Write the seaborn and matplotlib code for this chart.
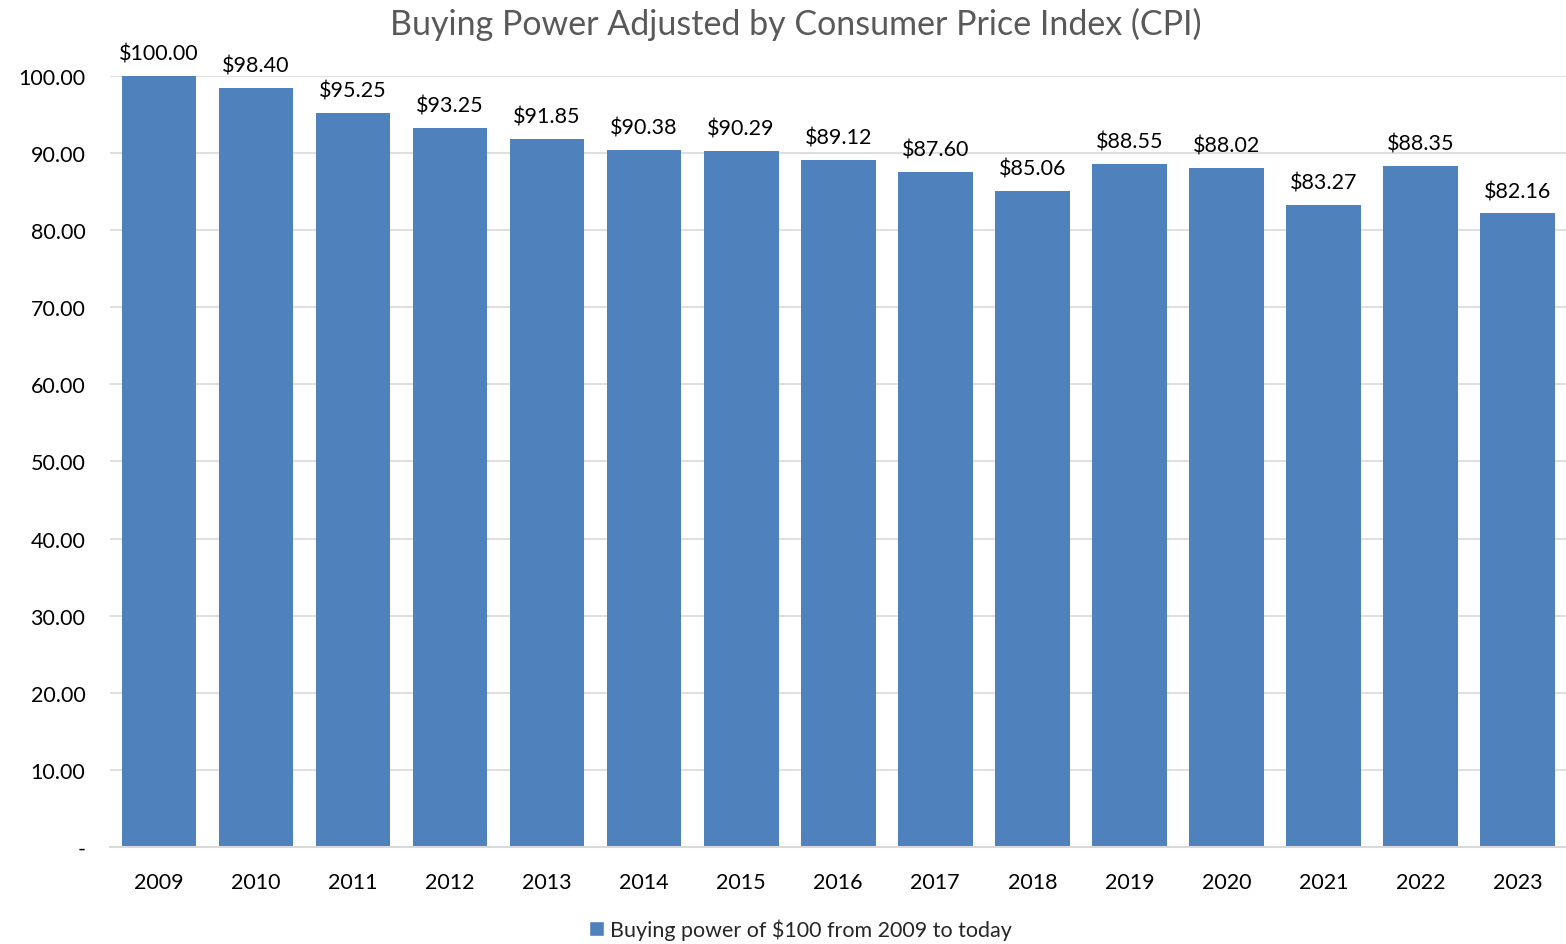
import seaborn as sns
import matplotlib.pyplot as plt
import pandas as pd
from matplotlib.patches import Patch

years = ['2009', '2010', '2011', '2012', '2013', '2014', '2015', '2016',
         '2017', '2018', '2019', '2020', '2021', '2022', '2023']
buying_power = [100.00, 98.40, 95.25, 93.25, 91.85, 90.38, 90.29, 89.12,
                87.60, 85.06, 88.55, 88.02, 83.27, 88.35, 82.16]
series_name = 'Buying power of $100 from 2009 to today'

df = pd.DataFrame({'Year': years, 'Value': buying_power})

sns.set_style('white')
plt.rcParams['font.family'] = ['Lato', 'DejaVu Sans']

bar_color = '#4F81BD'

fig = plt.figure(figsize=(15.66, 9.45), dpi=100)
ax = fig.add_axes([0.0705, 0.1026, 0.9295, 0.816])

sns.barplot(data=df, x='Year', y='Value', color=bar_color, width=0.77,
            saturation=1, linewidth=0, ax=ax)

ax.set_ylim(0, 100)
ax.set_xlim(-0.5, len(years) - 0.5)
ax.set_yticks(range(0, 101, 10))
ax.set_yticklabels(['-'] + [f'{v:.2f}' for v in range(10, 101, 10)])
ax.yaxis.grid(True, color='#D9D9D9', linewidth=1.2)
ax.set_axisbelow(True)
for s in ['top', 'right', 'left']:
    ax.spines[s].set_visible(False)
ax.spines['bottom'].set_color('#D9D9D9')
ax.spines['bottom'].set_linewidth(1.5)
ax.tick_params(axis='y', length=0, labelsize=15.5, colors='#000000', pad=18)
ax.tick_params(axis='x', length=0, labelsize=15.5, colors='#000000', pad=18)
ax.set_xlabel('')
ax.set_ylabel('')

for i, v in enumerate(buying_power):
    ax.text(i, v + 1.6, f'${v:.2f}', ha='center', va='bottom', fontsize=15.5,
            color='#000000', clip_on=False)

fig.suptitle('Buying Power Adjusted by Consumer Price Index (CPI)', x=0.508, y=0.992,
             fontsize=24.5, color='#595959')

handles = [Patch(facecolor=bar_color, label=series_name)]
fig.legend(handles=handles, loc='lower center', bbox_to_anchor=(0.511, -0.016),
           frameon=False, fontsize=15.5, handlelength=0.7, handleheight=0.7,
           handletextpad=0.3)

fig.savefig('out.png', dpi=100)
